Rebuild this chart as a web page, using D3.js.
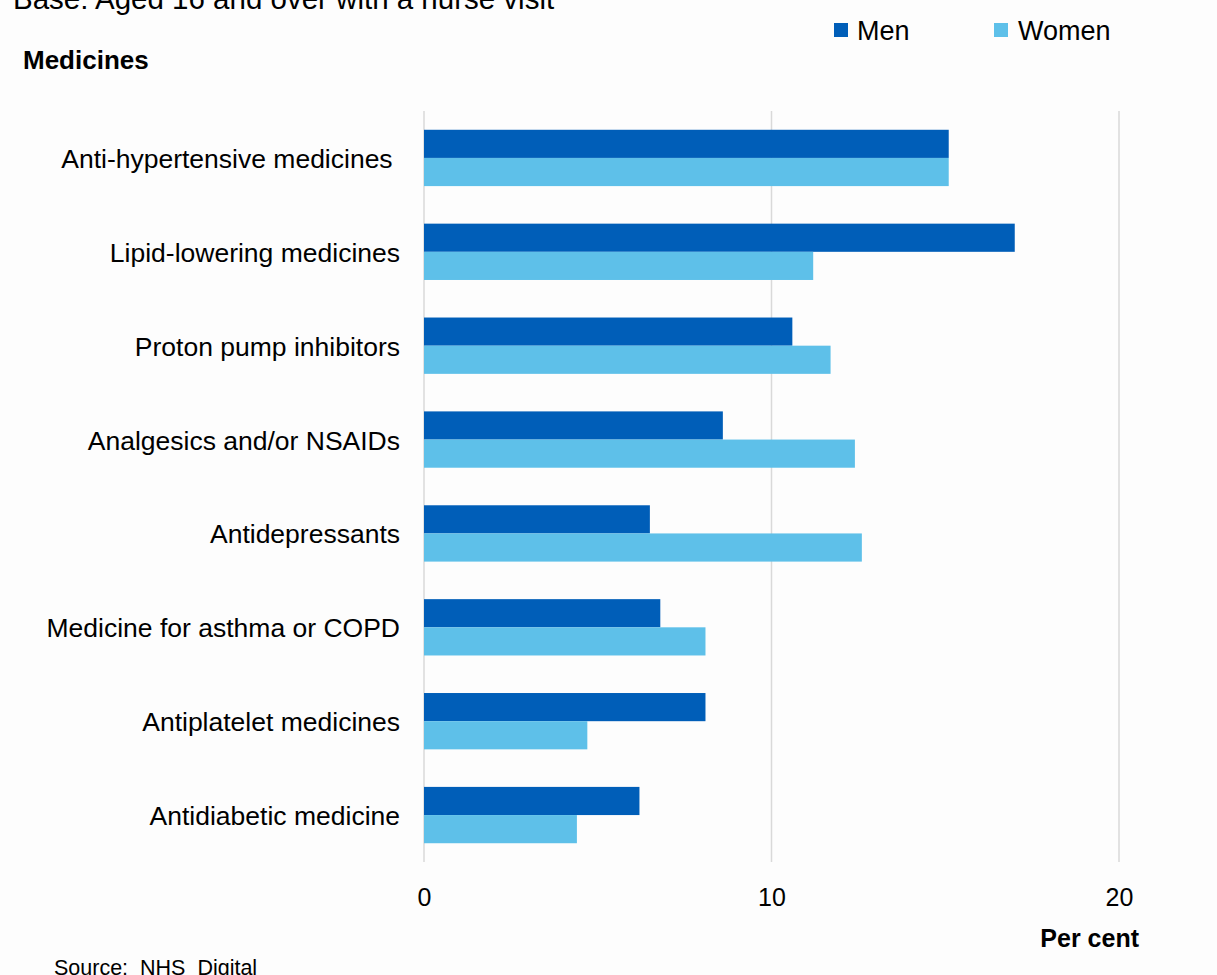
<!DOCTYPE html>
<html>
<head>
<meta charset="utf-8">
<script src="https://cdn.jsdelivr.net/npm/d3@7"></script>
<style>
  html, body { margin: 0; padding: 0; background: #fdfdfd; }
  svg { display: block; font-family: "Liberation Sans", Arial, sans-serif; }
  text { white-space: pre; }
</style>
</head>
<body>
<svg id="chart" width="1217" height="975"></svg>
<script>
// Medicines taken in the last week, by sex (per cent)
const categories = [
  "Anti-hypertensive medicines ",
  "Lipid-lowering medicines",
  "Proton pump inhibitors",
  "Analgesics and/or NSAIDs",
  "Antidepressants",
  "Medicine for asthma or COPD",
  "Antiplatelet medicines",
  "Antidiabetic medicine"
];
const men   = [15.1, 17.0, 10.6, 8.6, 6.5, 6.8, 8.1, 6.2];
const women = [15.1, 11.2, 11.7, 12.4, 12.6, 8.1, 4.7, 4.4];
const seriesNames = ["Men", "Women"];
const xTicks = [0, 10, 20];

const colors = { Men: "#005eb8", Women: "#5ec0e9" };

const rows = categories.map((c, i) => ({ category: c, Men: men[i], Women: women[i] }));

const svg = d3.select("#chart");

const plot = { left: 424, right: 1119, top: 111, bottom: 862 };

const x = d3.scaleLinear().domain([0, 20]).range([plot.left, plot.right]);
const y = d3.scaleBand().domain(categories).range([plot.top, plot.bottom])
  .paddingInner(0.4).paddingOuter(0.2);
const ySub = d3.scaleBand().domain(seriesNames).range([0, y.bandwidth()]);

// Heading text
svg.append("text").attr("x", 13).attr("y", 9)
  .attr("font-size", 29.5).attr("fill", "#000")
  .text("Base: Aged 16 and over with a nurse visit");

svg.append("text").attr("x", 23).attr("y", 69)
  .attr("font-size", 26).attr("font-weight", "bold").attr("fill", "#000")
  .text("Medicines");

// Legend
const legendPos = [{ sx: 834, tx: 857 }, { sx: 994, tx: 1018 }];
seriesNames.forEach((s, i) => {
  svg.append("rect").attr("x", legendPos[i].sx).attr("y", 23)
    .attr("width", 14).attr("height", 14).attr("fill", colors[s]);
  svg.append("text").attr("x", legendPos[i].tx).attr("y", 40)
    .attr("font-size", 27).attr("fill", "#000").text(s);
});

// Vertical gridlines
svg.append("g").selectAll("line").data(xTicks).join("line")
  .attr("x1", d => x(d)).attr("x2", d => x(d))
  .attr("y1", plot.top).attr("y2", plot.bottom)
  .attr("stroke", "#d9d9d9").attr("stroke-width", 1.5);

// Bars
const groups = svg.append("g").selectAll("g").data(rows).join("g")
  .attr("transform", d => `translate(0,${y(d.category)})`);
groups.selectAll("rect").data(d => seriesNames.map(s => ({ s, v: d[s] }))).join("rect")
  .attr("x", x(0))
  .attr("y", d => ySub(d.s))
  .attr("width", d => x(d.v) - x(0))
  .attr("height", ySub.bandwidth())
  .attr("fill", d => colors[d.s]);

// Category labels
svg.append("g").selectAll("text").data(categories).join("text")
  .attr("x", 400)
  .attr("y", d => y(d) + y.bandwidth() / 2 + 10)
  .attr("text-anchor", "end")
  .attr("font-size", 26.5).attr("fill", "#000")
  .text(d => d);

// X axis
const xAxis = svg.append("g").attr("transform", `translate(0,${plot.bottom})`)
  .call(d3.axisBottom(x).tickValues(xTicks).tickSize(0).tickFormat(d3.format("d")));
xAxis.select(".domain").remove();
xAxis.selectAll("text")
  .attr("y", 44).attr("dy", 0)
  .attr("font-size", 25).attr("fill", "#000")
  .attr("font-family", "\"Liberation Sans\", Arial, sans-serif");

svg.append("text").attr("x", 1139).attr("y", 947)
  .attr("text-anchor", "end")
  .attr("font-size", 25).attr("font-weight", "bold").attr("fill", "#000")
  .text("Per cent");

svg.append("text").attr("x", 54).attr("y", 975)
  .attr("font-size", 21.5).attr("fill", "#000")
  .text("Source:  NHS  Digital");
</script>
</body>
</html>
